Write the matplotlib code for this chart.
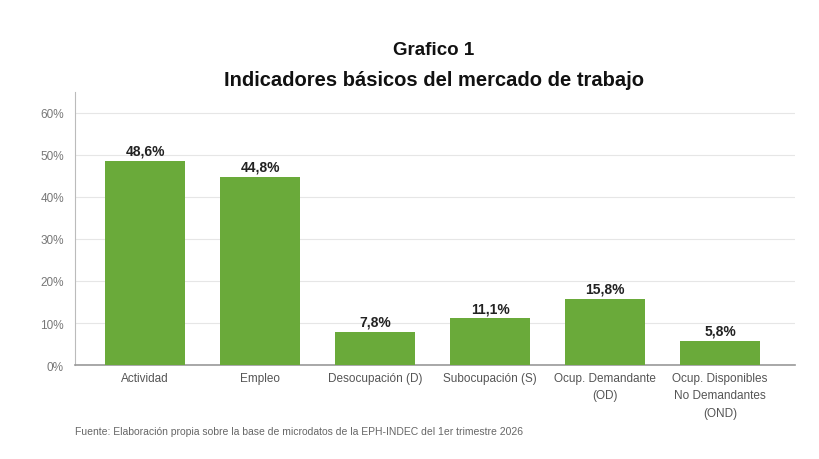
import matplotlib
matplotlib.use("Agg")
from matplotlib import pyplot as plt

categories = ['Actividad', 'Empleo', 'Desocupación (D)', 'Subocupación (S)',
              'Ocup. Demandante\n(OD)', 'Ocup. Disponibles\nNo Demandantes\n(OND)']
values = [48.6, 44.8, 7.8, 11.1, 15.8, 5.8]
yticks = [0, 10, 20, 30, 40, 50, 60]

plt.rcParams['font.family'] = ['Liberation Sans', 'DejaVu Sans']

fig = plt.figure(figsize=(8.19, 4.6), dpi=100)
ax = fig.add_axes([0.0916, 0.2043, 0.879, 0.5937])

x = range(len(values))
bars = ax.bar(x, values, width=0.7, color='#6aaa3a', zorder=3)
for b, v in zip(bars, values):
    ax.text(b.get_x() + b.get_width() / 2, v + 0.8, f'{v:.1f}%'.replace('.', ','),
            ha='center', va='bottom', fontsize=10, fontweight='bold', color='#222222')

ax.set_xlim(-0.61, 5.65)
ax.set_ylim(0, 65)
ax.set_yticks(yticks)
ax.set_yticklabels([f'{t}%' for t in yticks])
ax.set_xticks(list(x))
ax.set_xticklabels(categories, fontsize=8.5, color='#555555', linespacing=1.6)
ax.tick_params(axis='y', labelsize=8.5, labelcolor='#777777', length=0, pad=8)
ax.tick_params(axis='x', length=0, pad=5)
ax.grid(axis='y', color='#e6e6e6', linewidth=0.8, zorder=0)

for s in ['top', 'right']:
    ax.spines[s].set_visible(False)
ax.spines['left'].set_color('#bbbbbb')
ax.spines['bottom'].set_color('#999999')
ax.spines['bottom'].set_linewidth(1.2)

fig.text(0.53, 0.88, 'Grafico 1', ha='center', fontsize=13.5, fontweight='bold', color='#111111')
fig.text(0.53, 0.813, 'Indicadores básicos del mercado de trabajo', ha='center',
         fontsize=14.5, fontweight='bold', color='#111111')
fig.text(0.0916, 0.055, 'Fuente: Elaboración propia sobre la base de microdatos de la EPH-INDEC del 1er trimestre 2026',
         fontsize=7.5, color='#666666')

plt.savefig('out.png', dpi=100)
